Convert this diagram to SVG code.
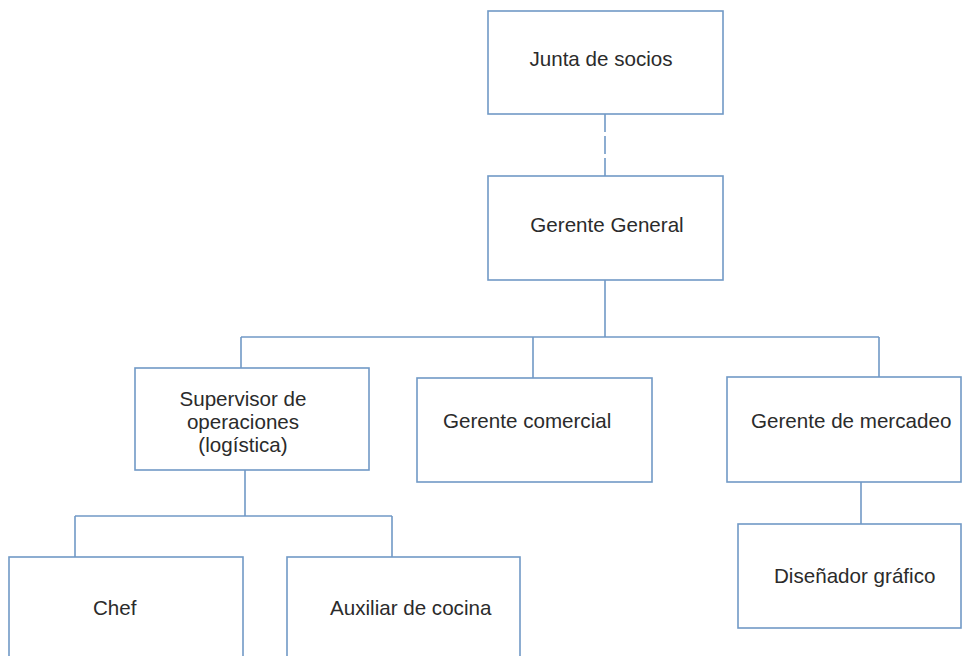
<svg xmlns="http://www.w3.org/2000/svg" width="962" height="656" viewBox="0 0 962 656">
<style>
.box{fill:#fff;stroke:#7199c6;stroke-width:1.6}
.ln{fill:none;stroke:#7199c6;stroke-width:1.6}
text{font-family:"Liberation Sans",Arial,sans-serif;font-size:20.6px;fill:#2b2b2b}
.c{text-anchor:middle}
</style>
<rect width="962" height="656" fill="#fff"/>
<g id="connectors">
<path class="ln" d="M605 114V176" stroke-dasharray="18 4"/>
<path class="ln" d="M605 280V337M241 337H879M241 337V368M533 337V378M879 337V377"/>
<path class="ln" d="M861 482V524"/>
<path class="ln" d="M245 470V516M75 516H392M75 516V557M392 516V557"/>
</g>
<g id="junta"><rect class="box" x="488" y="11" width="235" height="103"/><text class="c" x="601" y="66">Junta de socios</text></g>
<g id="gerente-general"><rect class="box" x="488" y="176" width="235" height="104"/><text class="c" x="607" y="232">Gerente General</text></g>
<g id="supervisor"><rect class="box" x="135" y="368" width="234" height="102"/><text class="c" x="243" y="406">Supervisor de</text><text class="c" x="243" y="429">operaciones</text><text class="c" x="243" y="452">(logística)</text></g>
<g id="gerente-comercial"><rect class="box" x="417" y="378" width="235" height="104"/><text x="443" y="428">Gerente comercial</text></g>
<g id="gerente-mercadeo"><rect class="box" x="727" y="377" width="234" height="105"/><text x="751" y="428">Gerente de mercadeo</text></g>
<g id="disenador"><rect class="box" x="738" y="524" width="223" height="104"/><text x="774" y="583">Diseñador gráfico</text></g>
<g id="chef"><rect class="box" x="9" y="557" width="234" height="110"/><text x="93" y="615">Chef</text></g>
<g id="auxiliar"><rect class="box" x="287" y="557" width="233" height="110"/><text x="330" y="615">Auxiliar de cocina</text></g>
</svg>
